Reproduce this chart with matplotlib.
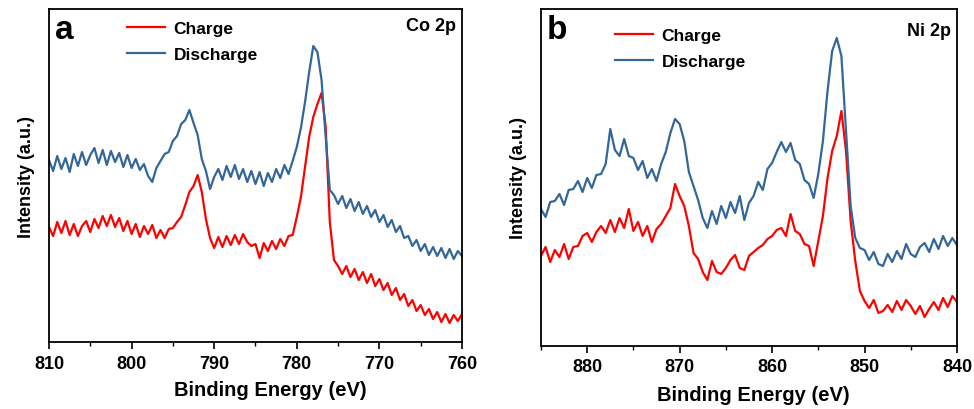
import numpy as np
import matplotlib.pyplot as plt
from matplotlib.ticker import MultipleLocator

plt.rcParams['font.family'] = ['Liberation Sans', 'DejaVu Sans']
plt.rcParams['font.weight'] = 'bold'

# Co 2p spectra (binding energy, eV) - intensities, arbitrary units
co_energy = np.arange(810, 759.9, -0.5)
co_discharge = [182, 171, 186, 173, 184, 170, 188, 176, 190, 177,
                187, 194, 179, 192, 177, 191, 180, 189, 175, 187,
                174, 183, 172, 178, 166, 160, 174, 181, 188, 190,
                201, 206, 218, 222, 232, 219, 207, 183, 171, 153,
                165, 173, 162, 176, 165, 177, 163, 173, 160, 171,
                158, 170, 156, 169, 160, 173, 164, 177, 168, 181,
                195, 214, 240, 270, 296, 290, 262, 205, 152, 147,
                138, 146, 134, 143, 131, 140, 128, 136, 125, 132,
                120, 127, 115, 122, 110, 116, 104, 106, 96, 102,
                91, 98, 87, 95, 86, 94, 84, 93, 83, 91,
                86]
co_charge = [115, 106, 120, 109, 121, 107, 118, 106, 116, 121,
             110, 123, 114, 126, 116, 127, 115, 124, 111, 121,
             108, 118, 105, 116, 108, 117, 104, 112, 104, 113,
             114, 120, 125, 137, 150, 156, 167, 150, 123, 104,
             94, 105, 95, 106, 97, 107, 98, 108, 100, 96,
             98, 84, 99, 91, 101, 93, 103, 96, 106, 107,
             125, 145, 175, 205, 225, 238, 249, 215, 120, 82,
             76, 68, 76, 65, 73, 62, 70, 59, 68, 56,
             63, 52, 59, 47, 54, 42, 48, 36, 42, 31,
             37, 27, 33, 23, 30, 20, 28, 19, 27, 21,
             28]

# Ni 2p spectra
ni_energy = np.arange(885, 839.9, -0.5)
ni_discharge = [137, 129, 144, 145, 152, 141, 156, 157, 165, 154,
                168, 158, 171, 172, 182, 217, 196, 190, 207, 190,
                188, 176, 185, 168, 177, 165, 182, 194, 213, 227,
                222, 205, 174, 160, 146, 128, 118, 135, 122, 140,
                128, 144, 133, 150, 126, 143, 150, 164, 156, 177,
                183, 194, 204, 194, 203, 186, 182, 166, 162, 148,
                172, 205, 255, 295, 308, 290, 215, 140, 108, 98,
                96, 86, 94, 82, 80, 92, 84, 95, 87, 102,
                92, 89, 99, 103, 94, 107, 97, 110, 100, 108,
                101]
ni_charge = [90, 99, 84, 96, 89, 102, 87, 99, 100, 110,
             113, 104, 114, 120, 113, 126, 114, 128, 118, 137,
             115, 124, 110, 120, 104, 117, 122, 130, 138, 162,
             150, 140, 120, 93, 87, 74, 66, 85, 74, 72,
             78, 86, 91, 78, 76, 90, 94, 98, 101, 107,
             110, 116, 118, 110, 132, 115, 112, 102, 100, 80,
             105, 130, 168, 195, 210, 235, 195, 125, 85, 55,
             45, 38, 46, 33, 35, 41, 34, 45, 36, 46,
             40, 32, 40, 29, 37, 44, 36, 48, 39, 50,
             44]

red = '#ff0000'
blue = '#336699'

fig = plt.figure(figsize=(9.74, 4.10), dpi=100)
ax1 = fig.add_axes([0.0503, 0.1634, 0.4240, 0.8122])
ax2 = fig.add_axes([0.5554, 0.1537, 0.4271, 0.8219])

panels = [
    (ax1, co_energy, co_charge, co_discharge, (810, 760), 333, 'a', 'Co 2p', (0.15, 1.01), 0.975, 0.535),
    (ax2, ni_energy, ni_charge, ni_discharge, (885, 840), 337, 'b', 'Ni 2p', (0.14, 0.99), 0.96, 0.51),
]

for ax, e, ch, dis, xlim, ytop, letter, name, leg_pos, name_y, xl_pos in panels:
    ax.plot(e, ch, color=red, lw=1.6, label='Charge')
    ax.plot(e, dis, color=blue, lw=1.6, label='Discharge')
    ax.set_xlim(*xlim)
    ax.set_ylim(0, ytop)
    ax.xaxis.set_major_locator(MultipleLocator(10))
    ax.xaxis.set_minor_locator(MultipleLocator(5))
    ax.tick_params(axis='x', which='major', direction='out', length=5, width=1.2,
                   labelsize=13, pad=4)
    ax.tick_params(axis='x', which='minor', direction='out', length=3, width=1.0)
    ax.set_yticks([])
    for sp in ax.spines.values():
        sp.set_linewidth(1.3)
    ax.set_xlabel('Binding Energy (eV)', fontsize=14.5, fontweight='bold', labelpad=6)
    ax.xaxis.set_label_coords(xl_pos, -0.115)
    ax.set_ylabel('Intensity (a.u.)', fontsize=13, fontweight='bold', labelpad=10)
    ax.text(0.015, 0.985, letter, transform=ax.transAxes, fontsize=24,
            fontweight='bold', va='top', ha='left')
    ax.text(0.985, name_y, name, transform=ax.transAxes, fontsize=13,
            fontweight='bold', va='top', ha='right')
    leg = ax.legend(loc='upper left', bbox_to_anchor=leg_pos, frameon=False,
                    fontsize=12.5, handlelength=2.2, handletextpad=0.5,
                    labelspacing=0.6)
    for t in leg.get_texts():
        t.set_fontweight('bold')

fig.savefig('out.png', dpi=100)
